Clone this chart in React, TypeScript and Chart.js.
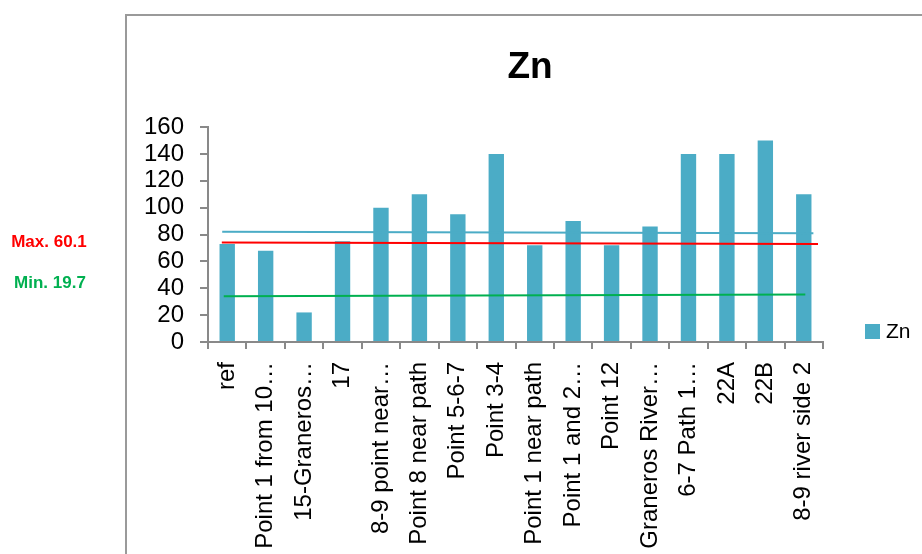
import React, { useEffect, useRef } from 'react';
import { Chart, registerables } from 'chart.js';

Chart.register(...registerables);

// ---- Data ----
const categories = [
  'ref',
  'Point 1 from 10…',
  '15-Graneros…',
  '17',
  '8-9 point near…',
  'Point 8 near path',
  'Point 5-6-7',
  'Point 3-4',
  'Point 1 near path',
  'Point 1 and 2…',
  'Point 12',
  'Graneros River…',
  '6-7 Path 1…',
  '22A',
  '22B',
  '8-9 river side 2',
];
const znValues = [73, 68, 22, 75, 100, 110, 95, 140, 72, 90, 72, 86, 140, 140, 150, 110];

// Horizontal reference lines: [start value, end value] and span in category units
const trendLineValues = [82, 81];
const trendLineSpan = [-0.13, 15.25];
const maxLineValues = [74, 73];
const maxLineSpan = [-0.14, 15.37];
const minLineValues = [34, 35.3];
const minLineSpan = [-0.09, 15.04];

const yTickMin = 0;
const yTickMax = 160;
const yTickStep = 20;

const seriesName = 'Zn';
const chartTitle = 'Zn';
const maxLabel = 'Max. 60.1';
const minLabel = 'Min. 19.7';

const BAR_COLOR = '#4BACC6';
const FONT = '"Liberation Sans", Arial, sans-serif';
const AXIS_COLOR = '#898989';

const overlayPlugin = {
  id: 'overlay',
  beforeDraw(chart: any) {
    const ctx = chart.ctx;
    ctx.save();
    ctx.fillStyle = '#ffffff';
    ctx.fillRect(0, 0, chart.width, chart.height);
    ctx.strokeStyle = '#9a9a9a';
    ctx.lineWidth = 2;
    ctx.beginPath();
    ctx.moveTo(126, chart.height + 2);
    ctx.lineTo(126, 15);
    ctx.lineTo(chart.width + 2, 15);
    ctx.stroke();
    ctx.restore();
  },
  afterDraw(chart: any) {
    const ctx = chart.ctx;
    ctx.save();
    // Title
    ctx.fillStyle = '#000';
    ctx.font = `bold 37px ${FONT}`;
    ctx.textAlign = 'center';
    ctx.textBaseline = 'middle';
    ctx.fillText(chartTitle, 530, 68);
    // Legend
    ctx.fillStyle = BAR_COLOR;
    ctx.fillRect(865, 324, 15, 15);
    ctx.fillStyle = '#000';
    ctx.font = `21px ${FONT}`;
    ctx.textAlign = 'left';
    ctx.fillText(seriesName, 886, 332);
    // Annotations
    ctx.font = `bold 17px ${FONT}`;
    ctx.textAlign = 'center';
    ctx.fillStyle = '#FF0000';
    ctx.fillText(maxLabel, 49, 242);
    ctx.fillStyle = '#00B050';
    ctx.fillText(minLabel, 50, 283);
    ctx.restore();
  },
};

function lineData(span: number[], vals: number[]) {
  return [
    { x: span[0], y: vals[0] },
    { x: span[1], y: vals[1] },
  ];
}

export default function App() {
  const ref = useRef<HTMLCanvasElement | null>(null);

  useEffect(() => {
    if (!ref.current) return;
    const chart = new Chart(ref.current, {
      type: 'bar',
      data: {
        labels: categories,
        datasets: [
          {
            type: 'line',
            label: 'trend',
            data: lineData(trendLineSpan, trendLineValues) as any,
            xAxisID: 'x2',
            borderColor: '#4BACC6',
            borderWidth: 2,
            pointRadius: 0,
            fill: false,
            order: 0,
          } as any,
          {
            type: 'line',
            label: 'max',
            data: lineData(maxLineSpan, maxLineValues) as any,
            xAxisID: 'x2',
            borderColor: '#FF0000',
            borderWidth: 2,
            pointRadius: 0,
            fill: false,
            order: 0,
          } as any,
          {
            type: 'line',
            label: 'min',
            data: lineData(minLineSpan, minLineValues) as any,
            xAxisID: 'x2',
            borderColor: '#00B050',
            borderWidth: 2,
            pointRadius: 0,
            fill: false,
            order: 0,
          } as any,
          {
            type: 'bar',
            label: seriesName,
            data: znValues,
            backgroundColor: BAR_COLOR,
            borderWidth: 0,
            barPercentage: 0.4,
            categoryPercentage: 1,
            grouped: false,
            xAxisID: 'x',
            order: 5,
          } as any,
        ],
      },
      options: {
        animation: false,
        responsive: false,
        layout: { padding: { top: 127, right: 99, left: 0, bottom: 0 } },
        plugins: {
          legend: { display: false },
          title: { display: false },
          tooltip: { enabled: false },
        },
        scales: {
          x: {
            type: 'category',
            offset: true,
            afterFit(scale: any) {
              scale.height = 212;
            },
            grid: {
              offset: true,
              drawOnChartArea: false,
              drawTicks: true,
              tickLength: 7,
              color: AXIS_COLOR,
              lineWidth: 2,
            },
            border: { color: AXIS_COLOR, width: 2 },
            ticks: {
              autoSkip: false,
              minRotation: 90,
              maxRotation: 90,
              padding: 13,
              color: '#000',
              font: { family: FONT, size: 24 },
            },
          },
          x2: {
            type: 'linear',
            display: false,
            offset: false,
            bounds: 'ticks',
            min: -0.5,
            max: categories.length - 0.5,
          },
          y: {
            min: yTickMin,
            max: yTickMax,
            afterFit(scale: any) {
              scale.width = 208;
            },
            grid: {
              drawOnChartArea: false,
              drawTicks: true,
              tickLength: 8,
              color: AXIS_COLOR,
              lineWidth: 2,
            },
            border: { color: AXIS_COLOR, width: 2 },
            ticks: {
              stepSize: yTickStep,
              autoSkip: false,
              padding: 16,
              color: '#000',
              font: { family: FONT, size: 24 },
            },
          },
        },
      } as any,
      plugins: [overlayPlugin],
    });
    return () => chart.destroy();
  }, []);

  return (
    <div style={{ position: 'absolute', left: 0, top: 0, width: 922, height: 554, overflow: 'hidden', background: '#fff' }}>
      <canvas ref={ref} width={922} height={554} style={{ display: 'block', width: 922, height: 554 }} />
    </div>
  );
}
